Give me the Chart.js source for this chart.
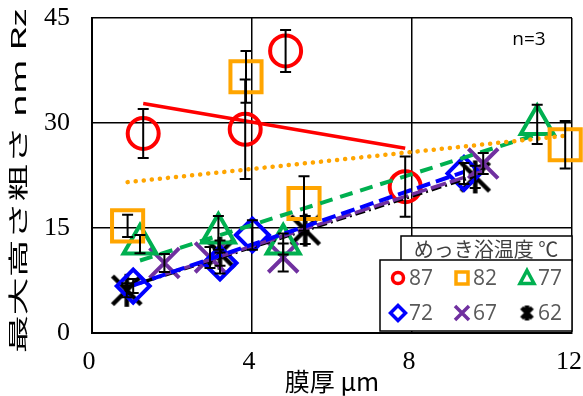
<!DOCTYPE html>
<html><head><meta charset="utf-8">
<script src="https://cdn.jsdelivr.net/npm/chart.js@4/dist/chart.umd.min.js"></script>
<style>html,body{margin:0;padding:0;background:#fff}</style>
</head><body>
<canvas id="c" width="583" height="396"></canvas>
<script>
// Plating bath temperature series (°C)
const bathTemps = ['87', '82', '77', '72', '67', '62'];

// Film thickness (µm), max height roughness Rz, and ± error for each series
const x87 = [1.28, 3.83, 4.84, 7.83];
const y87 = [28.5, 29.1, 40.3, 20.9];
const e87 = [3.5, 7.1, 3.0, 4.3];

const x82 = [0.89, 3.85, 5.30, 11.83];
const y82 = [15.3, 36.6, 18.5, 26.9];
const e82 = [1.6, 3.7, 3.9, 3.4];

const x77 = [1.20, 3.16, 4.78, 11.13];
const y77 = [12.7, 14.3, 12.7, 29.8];
const e77 = [1.3, 2.4, 1.5, 2.8];

const x72 = [1.03, 3.20, 4.01, 9.30];
const y72 = [6.7, 10.0, 14.0, 22.8];
const e72 = [1.0, 1.5, 2.1, 1.5];

const x67 = [1.81, 2.95, 4.78, 9.78];
const y67 = [10.0, 10.8, 10.8, 24.2];
const e67 = [1.3, 1.5, 2.0, 1.5];

const x62 = [0.87, 3.20, 5.33, 9.58];
const y62 = [6.1, 11.4, 14.7, 22.3];
const e62 = [1.0, 1.8, 2.0, 1.6];

const xTicks = [0, 4, 8, 12];
const yTicks = [0, 15, 30, 45];

// Asterisk-like marker: an X with a vertical stroke
function starMarker(size, lw) {
  const c = document.createElement('canvas');
  c.width = c.height = size;
  const g = c.getContext('2d');
  g.strokeStyle = '#000';
  g.lineWidth = lw;
  const m = lw / 2 + 1, s = size;
  g.beginPath();
  g.moveTo(m, m); g.lineTo(s - m, s - m);
  g.moveTo(s - m, m); g.lineTo(m, s - m);
  g.moveTo(s / 2, 1); g.lineTo(s / 2, s - 1);
  g.stroke();
  return c;
}

const series = [
  { t: bathTemps[0], xs: x87, ys: y87, es: e87, color: '#FF0000', style: 'circle', radius: 15.5, dash: [], lw: 3.5 },
  { t: bathTemps[1], xs: x82, ys: y82, es: e82, color: '#FFA500', style: 'rect', radius: 22, dash: [0.1, 8], lw: 4.5, cap: 'round' },
  { t: bathTemps[2], xs: x77, ys: y77, es: e77, color: '#00B050', style: 'triangle', radius: 19, dash: [13, 8], lw: 4 },
  { t: bathTemps[3], xs: x72, ys: y72, es: e72, color: '#0000FF', style: 'rectRot', radius: 16.5, dash: [14, 6], lw: 4 },
  { t: bathTemps[4], xs: x67, ys: y67, es: e67, color: '#7030A0', style: 'crossRot', radius: 21, dash: [16, 4], lw: 3.5 },
  { t: bathTemps[5], xs: x62, ys: y62, es: e62, color: '#000000', style: starMarker(35, 4.5), radius: 17, dash: [10, 4, 2, 4], lw: 3.5 }
];

// Least-squares linear trend across each series' range
function trend(xs, ys) {
  const n = xs.length;
  const mx = xs.reduce((a, b) => a + b, 0) / n;
  const my = ys.reduce((a, b) => a + b, 0) / n;
  let sxx = 0, sxy = 0;
  for (let i = 0; i < n; i++) { sxx += (xs[i] - mx) ** 2; sxy += (xs[i] - mx) * (ys[i] - my); }
  const k = sxy / sxx;
  const x0 = Math.min(...xs), x1 = Math.max(...xs);
  return [{ x: x0, y: my + k * (x0 - mx) }, { x: x1, y: my + k * (x1 - mx) }];
}

const datasets = [];
series.forEach(s => {
  datasets.push({
    type: 'scatter',
    label: s.t,
    data: s.xs.map((x, i) => ({ x, y: s.ys[i] })),
    errs: s.es,
    pointStyle: s.style,
    pointRadius: s.radius,
    pointHoverRadius: s.radius,
    borderColor: s.color,
    backgroundColor: 'rgba(0,0,0,0)',
    pointBorderWidth: 4,
    clip: false,
    order: 2
  });
});
series.forEach(s => {
  datasets.push({
    type: 'line',
    label: s.t + ' trend',
    isTrend: true,
    data: trend(s.xs, s.ys),
    borderColor: s.color,
    borderWidth: s.lw,
    borderDash: s.dash,
    borderCapStyle: s.cap || 'butt',
    pointRadius: 0,
    fill: false,
    clip: false,
    order: 1
  });
});

// Vertical error bars with caps
const errorBars = {
  id: 'errorBars',
  afterDatasetsDraw(chart) {
    const ctx = chart.ctx, xs = chart.scales.x, ys = chart.scales.y;
    ctx.save();
    ctx.strokeStyle = '#000';
    ctx.lineWidth = 2;
    chart.data.datasets.forEach(ds => {
      if (!ds.errs) return;
      ds.data.forEach((p, i) => {
        const e = ds.errs[i];
        const px = xs.getPixelForValue(p.x);
        const top = ys.getPixelForValue(p.y + e);
        const bot = ys.getPixelForValue(p.y - e);
        ctx.beginPath();
        ctx.moveTo(px, top); ctx.lineTo(px, bot);
        ctx.moveTo(px - 5.5, top); ctx.lineTo(px + 5.5, top);
        ctx.moveTo(px - 5.5, bot); ctx.lineTo(px + 5.5, bot);
        ctx.stroke();
      });
    });
    ctx.restore();
  }
};

// Small legend symbol matching each series' marker
function legendSymbol(ctx, style, color, cx, cy) {
  ctx.save();
  ctx.strokeStyle = color;
  ctx.lineWidth = 3.5;
  ctx.beginPath();
  if (style === 'circle') {
    ctx.arc(cx, cy, 5.5, 0, Math.PI * 2);
  } else if (style === 'rect') {
    ctx.rect(cx - 6, cy - 6, 12, 12);
  } else if (style === 'triangle') {
    ctx.moveTo(cx, cy - 7.5); ctx.lineTo(cx + 7, cy + 5.5); ctx.lineTo(cx - 7, cy + 5.5); ctx.closePath();
  } else if (style === 'rectRot') {
    ctx.moveTo(cx, cy - 7.5); ctx.lineTo(cx + 7.5, cy); ctx.lineTo(cx, cy + 7.5); ctx.lineTo(cx - 7.5, cy); ctx.closePath();
  } else if (style === 'crossRot') {
    ctx.moveTo(cx - 7, cy - 7); ctx.lineTo(cx + 7, cy + 7);
    ctx.moveTo(cx + 7, cy - 7); ctx.lineTo(cx - 7, cy + 7);
  }
  ctx.stroke();
  if (typeof style !== 'string') {
    ctx.drawImage(starMarker(17, 4.5), cx - 8.5, cy - 8.5);
  }
  ctx.restore();
}

// Boxed legend with a titled header, placed inside the plot
const boxedLegend = {
  id: 'boxedLegend',
  afterDraw(chart) {
    const ctx = chart.ctx;
    ctx.save();
    ctx.fillStyle = '#fff';
    ctx.strokeStyle = '#000';
    ctx.lineWidth = 1.5;
    ctx.fillRect(401, 236, 171, 25);
    ctx.strokeRect(401, 236, 171, 25);
    ctx.fillStyle = '#404040';
    ctx.font = '20px "Noto Sans CJK JP"';
    ctx.textBaseline = 'middle';
    ctx.textAlign = 'center';
    ctx.fillText('めっき浴温度 ℃', 486, 249);
    ctx.fillStyle = '#fff';
    ctx.fillRect(380, 260, 192, 71);
    ctx.strokeRect(380, 260, 192, 71);
    const cols = [398, 462, 527];
    const rows = [278, 313];
    ctx.font = '21px "Open Sans"';
    ctx.textAlign = 'left';
    const items = chart.data.datasets.filter(d => !d.isTrend);
    items.forEach((d, i) => {
      const cx = cols[i % 3], cy = rows[Math.floor(i / 3)];
      legendSymbol(ctx, d.pointStyle, d.borderColor, cx, cy);
      ctx.fillStyle = '#595959';
      ctx.fillText(d.label, cx + 11, cy + 1);
    });
    ctx.restore();
  }
};

// n=3 annotation and the vertical axis title (stretched along its length)
const extraText = {
  id: 'extraText',
  afterDraw(chart) {
    const ctx = chart.ctx;
    ctx.save();
    ctx.fillStyle = '#000';
    ctx.font = '19px "Open Sans"';
    ctx.textAlign = 'center';
    ctx.textBaseline = 'middle';
    ctx.fillText('n=3', 529, 40);
    ctx.restore();

    ctx.save();
    const label = '最大高さ粗さ nm Rz';
    ctx.font = '20px "Noto Sans CJK JP"';
    const w = ctx.measureText(label).width;
    ctx.translate(18, 181);
    ctx.rotate(-Math.PI / 2);
    ctx.scale(344 / w, 1);
    ctx.fillStyle = '#000';
    ctx.textAlign = 'center';
    ctx.textBaseline = 'middle';
    ctx.fillText(label, 0, 0);
    ctx.restore();
  }
};

// Keep the plot frame fixed: labels may hang past the frame edges
const noEdgePadding = s => { s.paddingLeft = 0; s.paddingRight = 0; s.paddingTop = 0; s.paddingBottom = 0; };

new Chart(document.getElementById('c'), {
  data: { datasets },
  options: {
    responsive: false,
    animation: false,
    layout: { autoPadding: false, padding: { top: 18, right: 11, left: 0, bottom: 0 } },
    plugins: { legend: { display: false }, tooltip: { enabled: false } },
    scales: {
      x: {
        type: 'linear',
        min: xTicks[0], max: xTicks[xTicks.length - 1],
        afterBuildTicks: s => { s.ticks = xTicks.map(v => ({ value: v })); },
        afterFit: s => { s.height = 63; noEdgePadding(s); },
        ticks: { font: { family: 'Liberation Serif', size: 26 }, color: '#000', padding: 14, labelOffset: -3 },
        grid: { color: '#000', lineWidth: 1.5, drawTicks: false },
        border: { color: '#000', width: 2 },
        title: { display: true, text: '膜厚 μm', font: { family: 'Noto Sans CJK JP', size: 25 }, color: '#000', padding: { top: -10, bottom: 0 } }
      },
      y: {
        type: 'linear',
        min: yTicks[0], max: yTicks[yTicks.length - 1],
        afterBuildTicks: s => { s.ticks = yTicks.map(v => ({ value: v })); },
        afterFit: s => { s.width = 92; noEdgePadding(s); },
        ticks: { font: { family: 'Liberation Serif', size: 26 }, color: '#000', padding: 22 },
        grid: { color: '#000', lineWidth: 1.5, drawTicks: false },
        border: { color: '#000', width: 2 }
      }
    }
  },
  plugins: [errorBars, boxedLegend, extraText]
});
</script>
</body></html>
